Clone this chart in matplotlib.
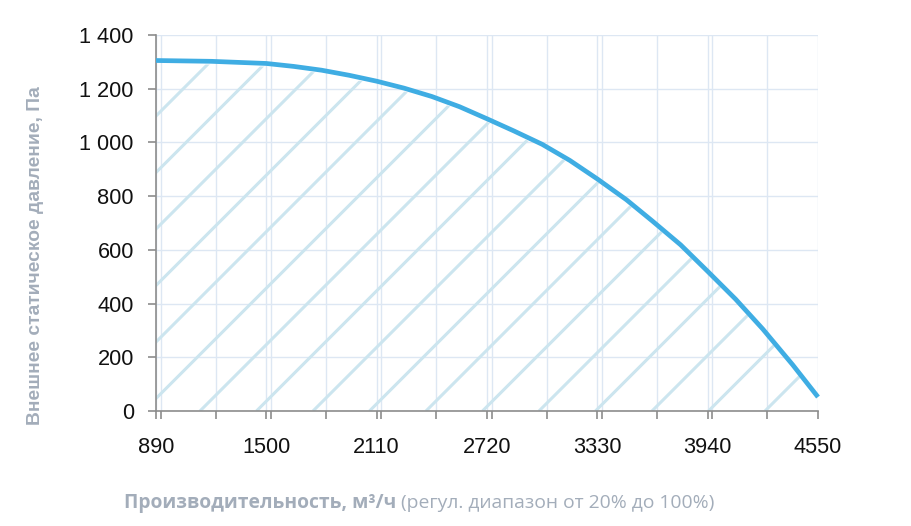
import matplotlib
matplotlib.use("Agg")
import matplotlib.pyplot as plt
from matplotlib.ticker import MultipleLocator, FuncFormatter, FixedLocator
import numpy as np

# Data
flow = [890, 1195, 1500, 1652, 1805, 1958, 2110, 2262, 2415, 2568, 2720, 2868,
        3025, 3178, 3330, 3490, 3635, 3790, 3940, 4095, 4245, 4410, 4550]
pressure = [1305, 1302, 1294, 1283, 1269, 1250, 1228, 1202, 1171, 1133, 1088, 1043,
            993, 933, 864, 787, 707, 619, 520, 416, 305, 172, 52]
x_ticks = [890, 1500, 2110, 2720, 3330, 3940, 4550]
y_ticks = [0, 200, 400, 600, 800, 1000, 1200, 1400]
ylabel = "Внешнее статическое давление, Па"
xlabel_bold = "Производительность, м³/ч"
xlabel_regular = " (регул. диапазон от 20% до 100%)"

W, H = 912, 526
fig = plt.figure(figsize=(W / 100, H / 100), dpi=100)
L, R, T, B = 156, 818, 35, 411
ax = fig.add_axes([L / W, 1 - B / H, (R - L) / W, (B - T) / H])

ax.set_xlim(890, 4550)
ax.set_ylim(0, 1400)

grid_c = "#dde7f3"
ax.xaxis.set_major_locator(FixedLocator(x_ticks))
ax.xaxis.set_minor_locator(MultipleLocator(305))
ax.yaxis.set_major_locator(FixedLocator(y_ticks))
ax.grid(True, which="both", axis="x", color=grid_c, lw=1.0, zorder=0)
ax.grid(True, which="major", axis="y", color=grid_c, lw=1.0, zorder=0)
ax.set_axisbelow(True)

ax.yaxis.set_major_formatter(FuncFormatter(lambda v, p: f"{int(v):,}".replace(",", " ")))

for s in ["top", "right"]:
    ax.spines[s].set_visible(False)
for s in ["left", "bottom"]:
    ax.spines[s].set_color("#8c8c8c")
    ax.spines[s].set_linewidth(1.2)

ax.tick_params(axis="both", which="both", direction="out", length=6, width=1.2,
               color="#8c8c8c", labelsize=15.7, labelcolor="#111111")
ax.tick_params(axis="y", pad=10)
ax.tick_params(axis="x", pad=13)
for lab in ax.get_xticklabels() + ax.get_yticklabels():
    lab.set_family("Liberation Sans")

# fill region (invisible) used to clip hatch lines
poly = ax.fill_between(flow, [p - 12 for p in pressure], 0, facecolor="none", edgecolor="none")
clip_path = poly.get_paths()[0]

aw, ah = R - L, B - T
spacing = 56.5 / aw
start = (200 - L) / aw
for k in np.arange(-12, 14):
    c = start + k * spacing
    ln, = ax.plot([c, c + ah / aw], [0, 1], transform=ax.transAxes,
                  color="#cce5ef", lw=2.2, zorder=1, solid_capstyle="butt")
    ln.set_clip_path(clip_path, transform=ax.transData)

ax.plot(flow, pressure, color="#3fade3", lw=3.4, zorder=3, clip_on=False,
        solid_capstyle="butt", solid_joinstyle="round")

# Y label
fig.text(36 / W, 1 - 256 / H, ylabel, rotation=90, ha="center", va="center",
         fontsize=13.9, fontweight="bold", color="#a3adba", family="Liberation Sans")

# X label (bold + regular)
lab_c = "#a3adba"
t1 = fig.text(124 / W, 1 - 503 / H, xlabel_bold, ha="left", va="center",
              fontsize=13.85, fontweight="bold", color=lab_c, family="Open Sans")
fig.canvas.draw()
bb = t1.get_window_extent(fig.canvas.get_renderer())
fig.text(bb.x1 / W, 1 - 503 / H, xlabel_regular, ha="left", va="center",
         fontsize=13.85, color=lab_c, family="Open Sans")

fig.savefig("out.png", dpi=100)
